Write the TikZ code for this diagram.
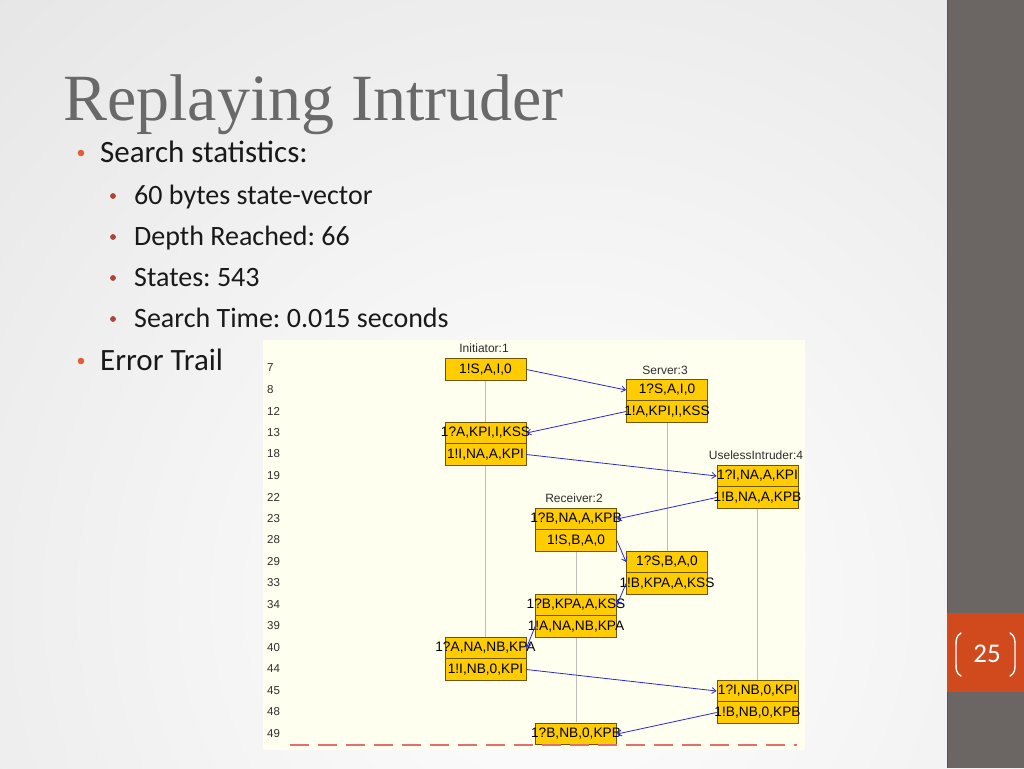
\documentclass[tikz,border=0pt]{standalone}
\usepackage{fontspec}
\setmainfont{Liberation Serif}
\newfontfamily\bodyfont{Carlito}
\newfontfamily\diafont{Liberation Sans}
\usetikzlibrary{arrows.meta}
\frenchspacing
\definecolor{titlegray}{RGB}{105,105,105}
\definecolor{bargray}{RGB}{107,101,99}
\definecolor{barline}{RGB}{88,83,81}
\definecolor{pageorange}{RGB}{208,74,30}
\definecolor{bulorange}{RGB}{222,96,52}
\definecolor{bulred}{RGB}{176,64,58}
\definecolor{textdark}{RGB}{25,25,25}
\definecolor{cream}{RGB}{255,255,240}
\definecolor{boxgold}{RGB}{255,204,0}
\definecolor{boxedge}{RGB}{110,85,10}
\definecolor{lifegray}{RGB}{190,190,190}
\definecolor{msgblue}{RGB}{40,40,215}
\definecolor{dashred}{RGB}{228,110,110}
\definecolor{lblgray}{RGB}{45,45,45}
\newcommand\msgtxt[1]{\makebox[0pt][c]{#1}}
\tikzset{
  msgbox/.style={draw=boxedge, fill=boxgold, line width=0.9pt, minimum width=81pt,
    minimum height=21.5pt, inner sep=0pt, text=black,
    font=\diafont\fontsize{13.7}{15}\selectfont},
  rowlbl/.style={anchor=west, inner sep=0pt, text=lblgray, font=\diafont\fontsize{11.5}{13}\selectfont},
  collbl/.style={inner sep=0pt, text=lblgray, font=\diafont\fontsize{12}{14}\selectfont},
  msg/.style={draw=msgblue, line width=0.8pt, -{Straight Barb[length=4pt,width=6pt]}},
  life/.style={draw=lifegray, line width=0.8pt},
  lvlone/.style={anchor=base west, inner sep=0pt, text=textdark, font=\bodyfont\fontsize{31}{36}\selectfont},
  lvltwo/.style={anchor=base west, inner sep=0pt, text=textdark, font=\bodyfont\fontsize{28}{33}\selectfont},
}
\begin{document}
\begin{tikzpicture}[x=1pt,y=-1pt]
\useasboundingbox (0,0) rectangle (1024,768);
% background
\fill[white] (0,0) rectangle (1024,768);
\begin{scope}
\clip (0,0) rectangle (1024,768);
\shade[inner color=white, outer color={rgb,255:red,222;green,222;blue,222}] (-540,-500) rectangle (1660,1700);
\end{scope}
\fill[bargray] (947,0) rectangle (1024,768);
\draw[barline, line width=1.2pt] (947.6,0) -- (947.6,768);
\fill[pageorange] (947,613) rectangle (1024,692);
\node[text=white, inner sep=0pt, font=\bodyfont\fontsize{27}{30}\selectfont] (pnum) at (987,654) {25};
\draw[white, line width=1.4pt, line cap=round] (961,633) .. controls (956,636) and (956,640) .. (956,646) -- (956,663) .. controls (956,670) and (956,673) .. (961,676);
\draw[white, line width=1.4pt, line cap=round] (1010,633) .. controls (1015,636) and (1015,640) .. (1015,646) -- (1015,663) .. controls (1015,670) and (1015,673) .. (1010,676);
% title
\node[anchor=base west, inner sep=0pt, text=titlegray, font=\fontsize{66}{70}\selectfont] (title) at (63,120) {Replaying Intruder};
% bullets
\fill[bulorange] (81,153) circle (3.3);
\node[lvlone] (b1) at (100,162) {Search statistics:};
\fill[bulred] (113,196) circle (2.9);
\node[lvltwo] (b2) at (134,204) {60 bytes state-vector};
\fill[bulred] (113,237) circle (2.9);
\node[lvltwo] (b3) at (134,245) {Depth Reached: 66};
\fill[bulred] (113,278) circle (2.9);
\node[lvltwo] (b4) at (134,286) {States: 543};
\fill[bulred] (113,319) circle (2.9);
\node[lvltwo] (b5) at (134,327) {Search Time: 0.015 seconds};
\fill[bulorange] (81,361) circle (3.3);
\node[lvlone] (b6) at (100,370) {Error Trail};
% diagram background
\fill[cream] (263,340) rectangle (805,750);
% row labels
\foreach \lab [count=\i from 0] in {7,8,12,13,18,19,22,23,28,29,33,34,39,40,44,45,48,49}
  \node[rowlbl] (row\lab) at (267,{368+21.5*\i}) {\lab};
% lifelines
\draw[life] (485.5,380) -- (485.5,422);
\draw[life] (485.5,465) -- (485.5,637);
\draw[life] (667,422) -- (667,551);
\draw[life] (757.5,508) -- (757.5,680);
\draw[life] (576,551) -- (576,594);
\draw[life] (576,637) -- (576,722);
% column labels
\node[collbl] (colI) at (484,348) {Initiator:1};
\node[collbl] (colS) at (665,370) {Server:3};
\node[collbl] (colU) at (756,455) {UselessIntruder:4};
\node[collbl] (colR) at (574,498) {Receiver:2};
% boxes
\node[msgbox] (i7)  at (485.5,369.5) {\msgtxt{1!S,A,I,0}};
\node[msgbox] (s8)  at (667,390)   {\msgtxt{1?S,A,I,0}};
\node[msgbox] (s12) at (667,411.5) {\msgtxt{1!A,KPI,I,KSS}};
\node[msgbox] (i13) at (485.5,433) {\msgtxt{1?A,KPI,I,KSS}};
\node[msgbox] (i18) at (485.5,454.5) {\msgtxt{1!I,NA,A,KPI}};
\node[msgbox] (u19) at (757.5,476) {\msgtxt{1?I,NA,A,KPI}};
\node[msgbox] (u22) at (757.5,497.5) {\msgtxt{1!B,NA,A,KPB}};
\node[msgbox] (r23) at (576,519)   {\msgtxt{1?B,NA,A,KPB}};
\node[msgbox] (r28) at (576,540.5) {\msgtxt{1!S,B,A,0}};
\node[msgbox] (s29) at (667,562)   {\msgtxt{1?S,B,A,0}};
\node[msgbox] (s33) at (667,583.5) {\msgtxt{1!B,KPA,A,KSS}};
\node[msgbox] (r34) at (576,605)   {\msgtxt{1?B,KPA,A,KSS}};
\node[msgbox] (r39) at (576,626.5) {\msgtxt{1!A,NA,NB,KPA}};
\node[msgbox] (i40) at (485.5,648) {\msgtxt{1?A,NA,NB,KPA}};
\node[msgbox] (i44) at (485.5,669.5) {\msgtxt{1!I,NB,0,KPI}};
\node[msgbox] (u45) at (757.5,691) {\msgtxt{1?I,NB,0,KPI}};
\node[msgbox] (u48) at (757.5,712.5) {\msgtxt{1!B,NB,0,KPB}};
\node[msgbox] (r49) at (576,734)   {\msgtxt{1?B,NB,0,KPB}};
% messages
\draw[msg] (i7.east) -- (s8.west);
\draw[msg] (s12.west) -- (i13.east);
\draw[msg] (i18.east) -- (u19.west);
\draw[msg] (u22.west) -- (r23.east);
\draw[msg] (r28.east) -- (s29.west);
\draw[msg] (s33.west) -- (r34.east);
\draw[msg] (r39.west) -- (i40.east);
\draw[msg] (i44.east) -- (u45.west);
\draw[msg] (u48.west) -- (r49.east);
% end marker
\coordinate (dl) at (290,745);
\coordinate (dr) at (797,745);
\draw[dashred, line width=1.3pt, dash pattern=on 19pt off 9pt] (dl) -- (dr);
\end{tikzpicture}
\end{document}
